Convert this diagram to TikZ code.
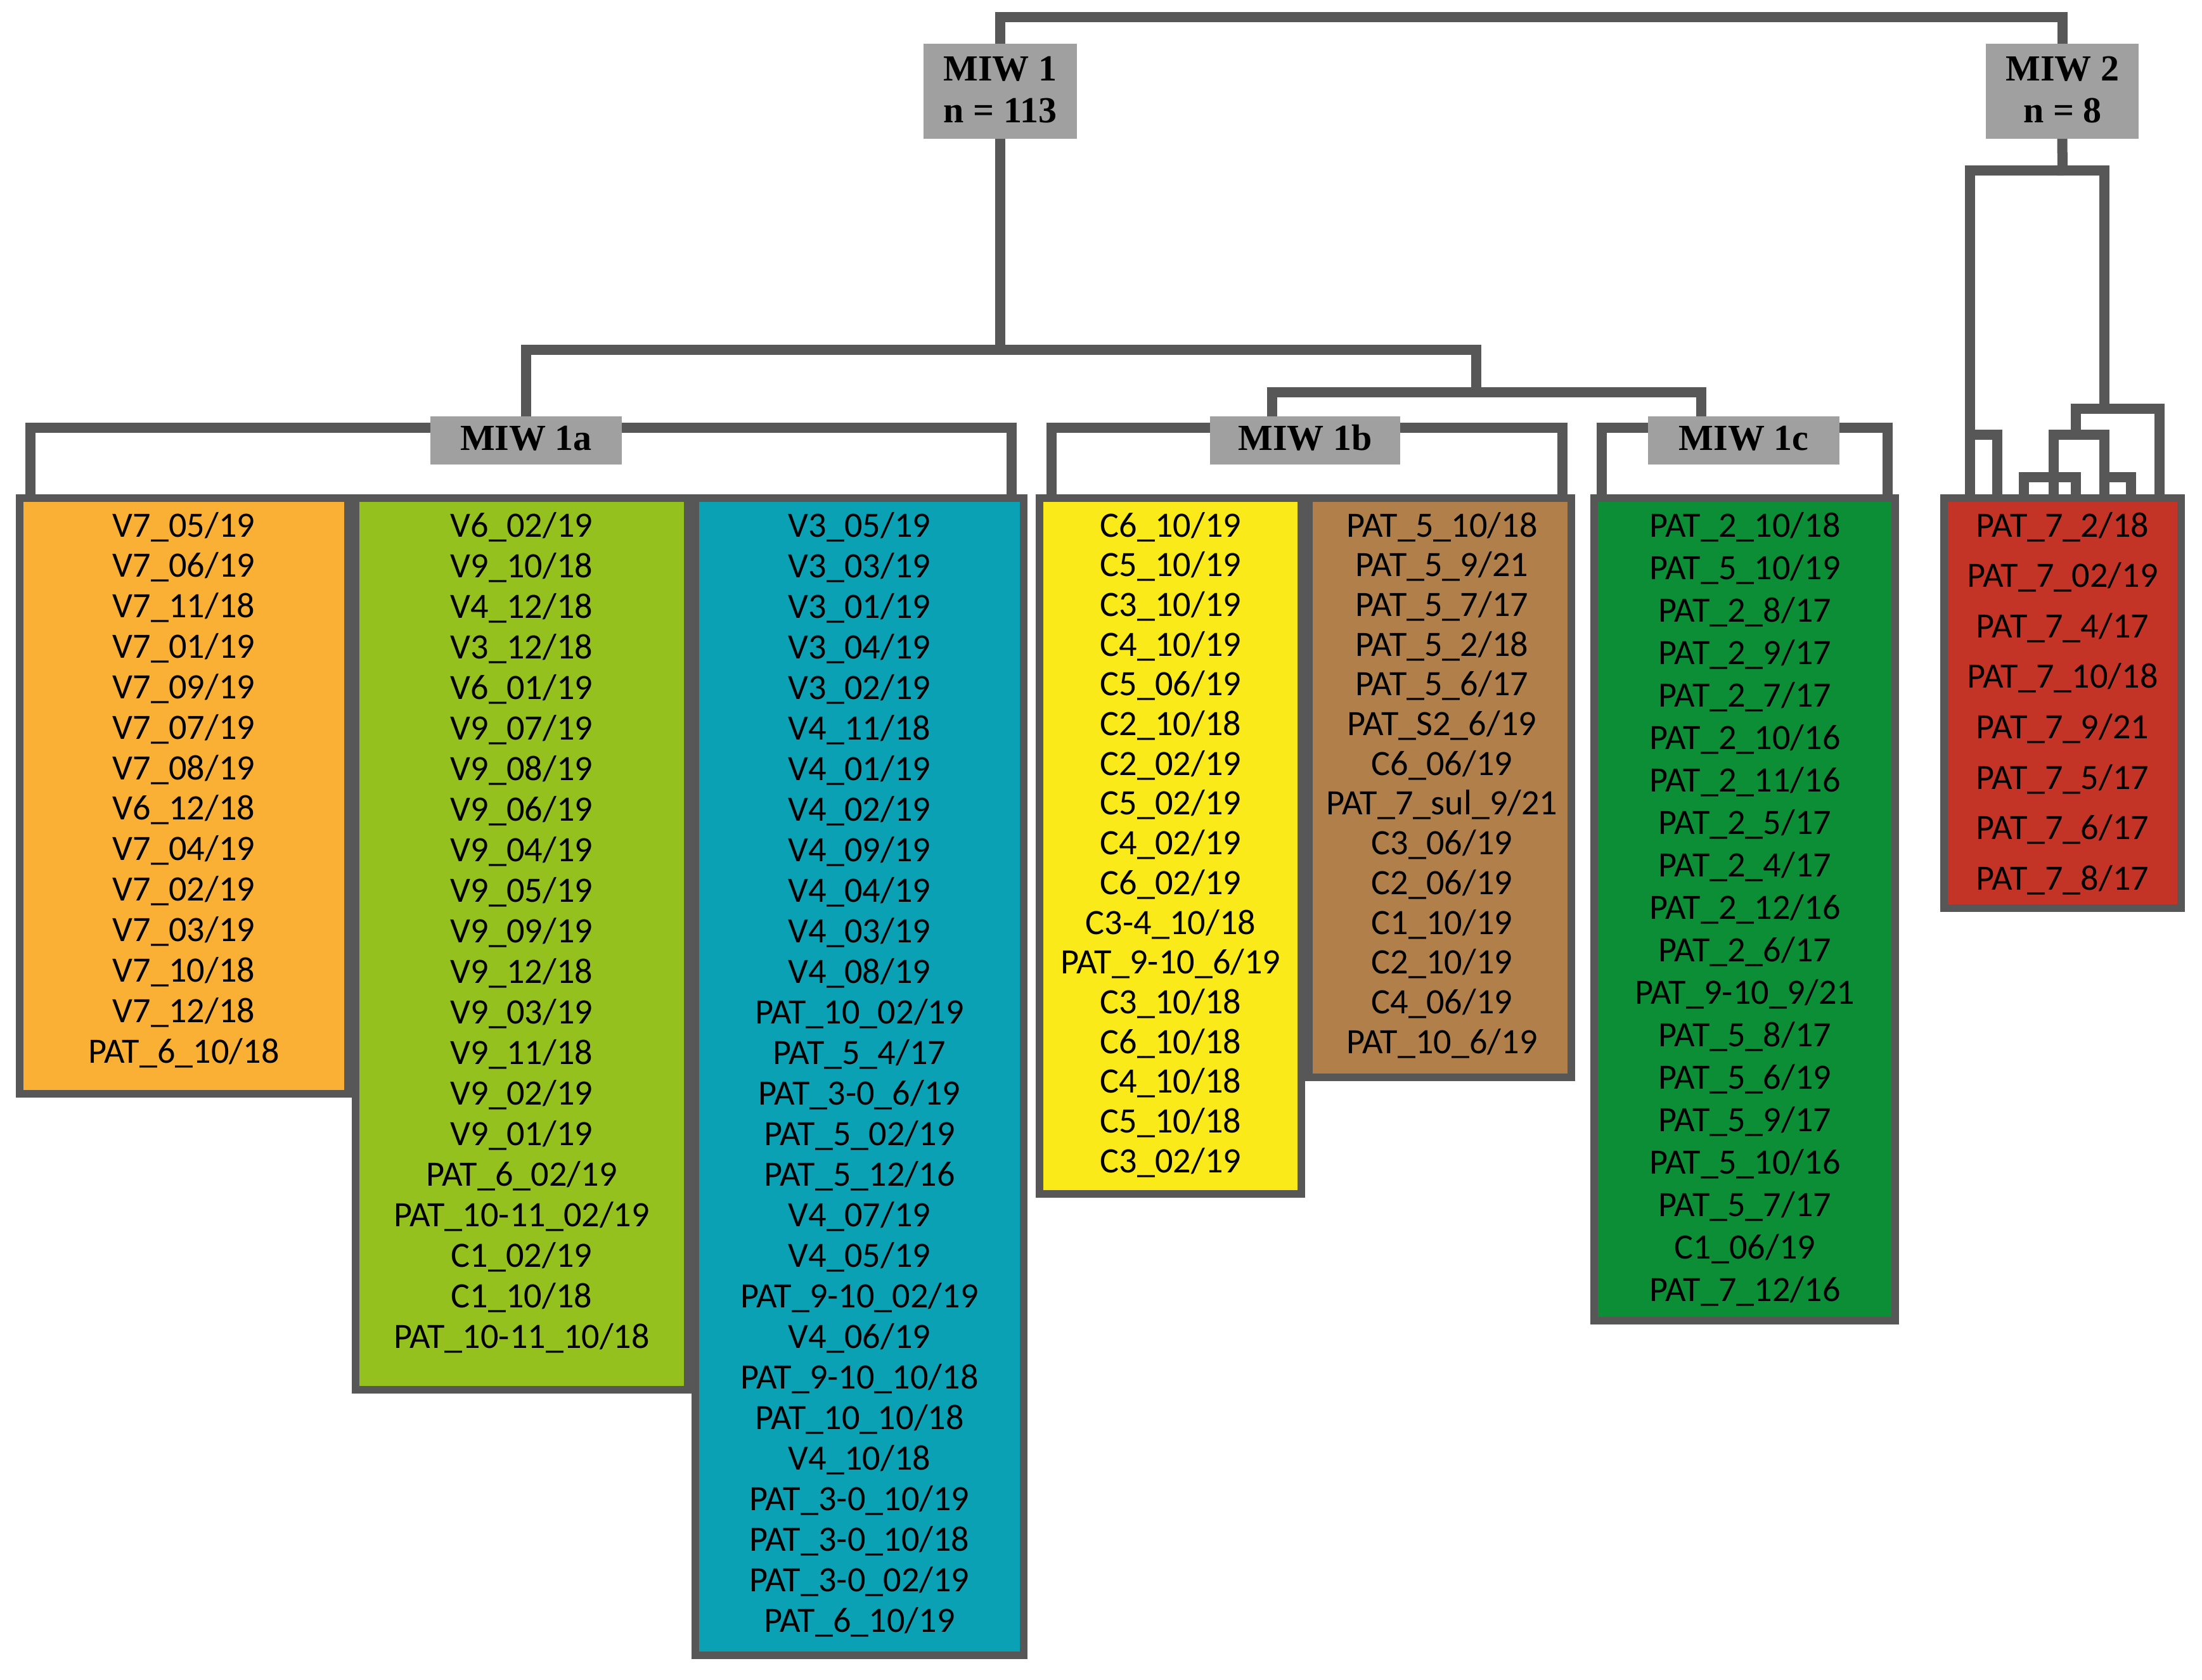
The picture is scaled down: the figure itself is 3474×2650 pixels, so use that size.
\documentclass[tikz,border=0pt]{standalone}
\usepackage{fontspec}
\usetikzlibrary{fit}
\newfontfamily\itemfam{Carlito}
\newfontfamily\hdrfam{Liberation Serif}
\definecolor{linegray}{RGB}{87,87,87}
\definecolor{hdrgray}{RGB}{160,160,160}
\definecolor{corange}{RGB}{249,176,52}
\definecolor{clgreen}{RGB}{149,193,31}
\definecolor{cteal}{RGB}{10,161,181}
\definecolor{cyellow}{RGB}{250,234,25}
\definecolor{cbrown}{RGB}{176,127,74}
\definecolor{cgreen}{RGB}{11,142,54}
\definecolor{cred}{RGB}{195,52,38}
\pgfdeclarelayer{bg}
\pgfsetlayers{bg,main}
\newcommand\itemcol[4]{%
  \foreach \lbl [count=\i from 0] in {#4}
    \node[item] (#1-\i) at (#2, {847+\i*#3}) {\lbl};}
\begin{document}
\begin{tikzpicture}[x=0.01cm, y=-0.01cm,
  tree/.style={draw=linegray, line width=0.16cm, line cap=rect, line join=miter},
  colbox/.style={draw=linegray, line width=0.12cm, inner sep=0pt, outer sep=0pt},
  hdrbox/.style={fill=hdrgray, draw=none, inner sep=0pt, outer sep=0pt},
  item/.style={font=\itemfam\fontsize{16}{19}\selectfont, anchor=base, inner sep=0pt, text=black},
  hdrtext/.style={font=\hdrfam\bfseries\fontsize{16.5}{19}\selectfont, anchor=base, inner sep=0pt, text=black}]
\useasboundingbox (0,0) rectangle (3474,2650);

% ---------- header boxes ----------
\node[hdrbox, fit={(1457,69) (1699,219)}] (miw1) {};
\node[hdrbox, fit={(3133,69) (3374,219)}] (miw2) {};
\node[hdrbox, fit={(679,657) (981,733)}] (miw1a) {};
\node[hdrbox, fit={(1909,657) (2209,733)}] (miw1b) {};
\node[hdrbox, fit={(2600,657) (2902,733)}] (miw1c) {};
\node[hdrtext] (miw1l1) at (1578,127) {MIW 1};
\node[hdrtext] (miw1l2) at (1578,193) {n = 113};
\node[hdrtext] (miw2l1) at (3254,127) {MIW 2};
\node[hdrtext] (miw2l2) at (3254,193) {n = 8};
\node[hdrtext] (miw1al) at (830,710) {MIW 1a};
\node[hdrtext] (miw1bl) at (2059,710) {MIW 1b};
\node[hdrtext] (miw1cl) at (2751,710) {MIW 1c};

% ---------- columns ----------
\node[colbox, fill=corange, fit={(31,786) (549,1726)}] (colA) {};
\node[colbox, fill=clgreen, fit={(561,786) (1085,2193)}] (colB) {};
\node[colbox, fill=cteal, fit={(1097,786) (1615,2612)}] (colC) {};
\node[colbox, fill=cyellow, fit={(1640,786) (2053,1884)}] (colD) {};
\node[colbox, fill=cbrown, fit={(2065,786) (2479,1700)}] (colE) {};
\node[colbox, fill=cgreen, fit={(2515,786) (2990,2084)}] (colF) {};
\node[colbox, fill=cred, fit={(3067,786) (3441,1433)}] (colG) {};

% ---------- column texts ----------
\itemcol{tA}{290}{63.85}{V7\_05/19,V7\_06/19,V7\_11/18,V7\_01/19,V7\_09/19,V7\_07/19,V7\_08/19,V6\_12/18,V7\_04/19,V7\_02/19,V7\_03/19,V7\_10/18,V7\_12/18,PAT\_6\_10/18}
\itemcol{tB}{823}{64.0}{V6\_02/19,V9\_10/18,V4\_12/18,V3\_12/18,V6\_01/19,V9\_07/19,V9\_08/19,V9\_06/19,V9\_04/19,V9\_05/19,V9\_09/19,V9\_12/18,V9\_03/19,V9\_11/18,V9\_02/19,V9\_01/19,PAT\_6\_02/19,PAT\_10-11\_02/19,C1\_02/19,C1\_10/18,PAT\_10-11\_10/18}
\itemcol{tC}{1356}{64.0}{V3\_05/19,V3\_03/19,V3\_01/19,V3\_04/19,V3\_02/19,V4\_11/18,V4\_01/19,V4\_02/19,V4\_09/19,V4\_04/19,V4\_03/19,V4\_08/19,PAT\_10\_02/19,PAT\_5\_4/17,PAT\_3-0\_6/19,PAT\_5\_02/19,PAT\_5\_12/16,V4\_07/19,V4\_05/19,PAT\_9-10\_02/19,V4\_06/19,PAT\_9-10\_10/18,PAT\_10\_10/18,V4\_10/18,PAT\_3-0\_10/19,PAT\_3-0\_10/18,PAT\_3-0\_02/19,PAT\_6\_10/19}
\itemcol{tD}{1847}{62.7}{C6\_10/19,C5\_10/19,C3\_10/19,C4\_10/19,C5\_06/19,C2\_10/18,C2\_02/19,C5\_02/19,C4\_02/19,C6\_02/19,C3-4\_10/18,PAT\_9-10\_6/19,C3\_10/18,C6\_10/18,C4\_10/18,C5\_10/18,C3\_02/19}
\itemcol{tE}{2275}{62.7}{PAT\_5\_10/18,PAT\_5\_9/21,PAT\_5\_7/17,PAT\_5\_2/18,PAT\_5\_6/17,PAT\_S2\_6/19,C6\_06/19,PAT\_7\_sul\_9/21,C3\_06/19,C2\_06/19,C1\_10/19,C2\_10/19,C4\_06/19,PAT\_10\_6/19}
\itemcol{tF}{2753}{67.05}{PAT\_2\_10/18,PAT\_5\_10/19,PAT\_2\_8/17,PAT\_2\_9/17,PAT\_2\_7/17,PAT\_2\_10/16,PAT\_2\_11/16,PAT\_2\_5/17,PAT\_2\_4/17,PAT\_2\_12/16,PAT\_2\_6/17,PAT\_9-10\_9/21,PAT\_5\_8/17,PAT\_5\_6/19,PAT\_5\_9/17,PAT\_5\_10/16,PAT\_5\_7/17,C1\_06/19,PAT\_7\_12/16}
\itemcol{tG}{3254}{79.6}{PAT\_7\_2/18,PAT\_7\_02/19,PAT\_7\_4/17,PAT\_7\_10/18,PAT\_7\_9/21,PAT\_7\_5/17,PAT\_7\_6/17,PAT\_7\_8/17}

% ---------- junction coordinates ----------
\coordinate (ytop) at (0,27);
\coordinate (n1) at (1578,552);
\coordinate (n1bc) at (2329,619);
\coordinate (s1b) at (2007,657);
\coordinate (s1c) at (2684,657);
\coordinate (b1aL) at (48,786);  \coordinate (b1a) at (830,675);  \coordinate (b1aR) at (1596,786);
\coordinate (b1bL) at (1659,786); \coordinate (b1b) at (2007,675); \coordinate (b1bR) at (2465,786);
\coordinate (b1cL) at (2527,786); \coordinate (b1c) at (2684,675); \coordinate (b1cR) at (2978,786);
% MIW 2 subtree
\coordinate (m2) at (3254,269);
\coordinate (l1) at (3108,786); \coordinate (l2) at (3151,786); \coordinate (l3) at (3193,786);
\coordinate (l4) at (3240,786); \coordinate (l5) at (3275,786); \coordinate (l6) at (3320,786);
\coordinate (l7) at (3362,786); \coordinate (l8) at (3407,786);
\coordinate (k686a) at (3108,686);
\coordinate (k645) at (3320,645);
\coordinate (k645m) at (3275,645);
\coordinate (k686b) at (3275,686);
\coordinate (k753a) at (3240,753);
\coordinate (k753b) at (3320,753);

% ---------- tree lines ----------
\begin{pgfonlayer}{bg}
\draw[tree] (miw1.north) -- (miw1.north |- ytop) -| (miw2.north);
\draw[tree] (miw1.south) -- (n1);
\draw[tree] (miw1a.north) |- (n1bc |- n1) -- (n1bc);
\draw[tree] (s1b) |- (n1bc) -| (s1c);
\draw[tree] (b1aL) |- (b1a) -| (b1aR);
\draw[tree] (b1bL) |- (b1b) -| (b1bR);
\draw[tree] (b1cL) |- (b1c) -| (b1cR);
% MIW 2
\draw[tree] (miw2.south) -- (m2);
\draw[tree] (l1) |- (m2) -| (k645);
\draw[tree] (k686a) -| (l2);
\draw[tree] (k686b) -- (k645m) -| (l8);
\draw[tree] (l4) |- (k686b) -| (l6);
\draw[tree] (l3) |- (k753a) -| (l5);
\draw[tree] (k753b) -| (l7);
\end{pgfonlayer}
\end{tikzpicture}
\end{document}
